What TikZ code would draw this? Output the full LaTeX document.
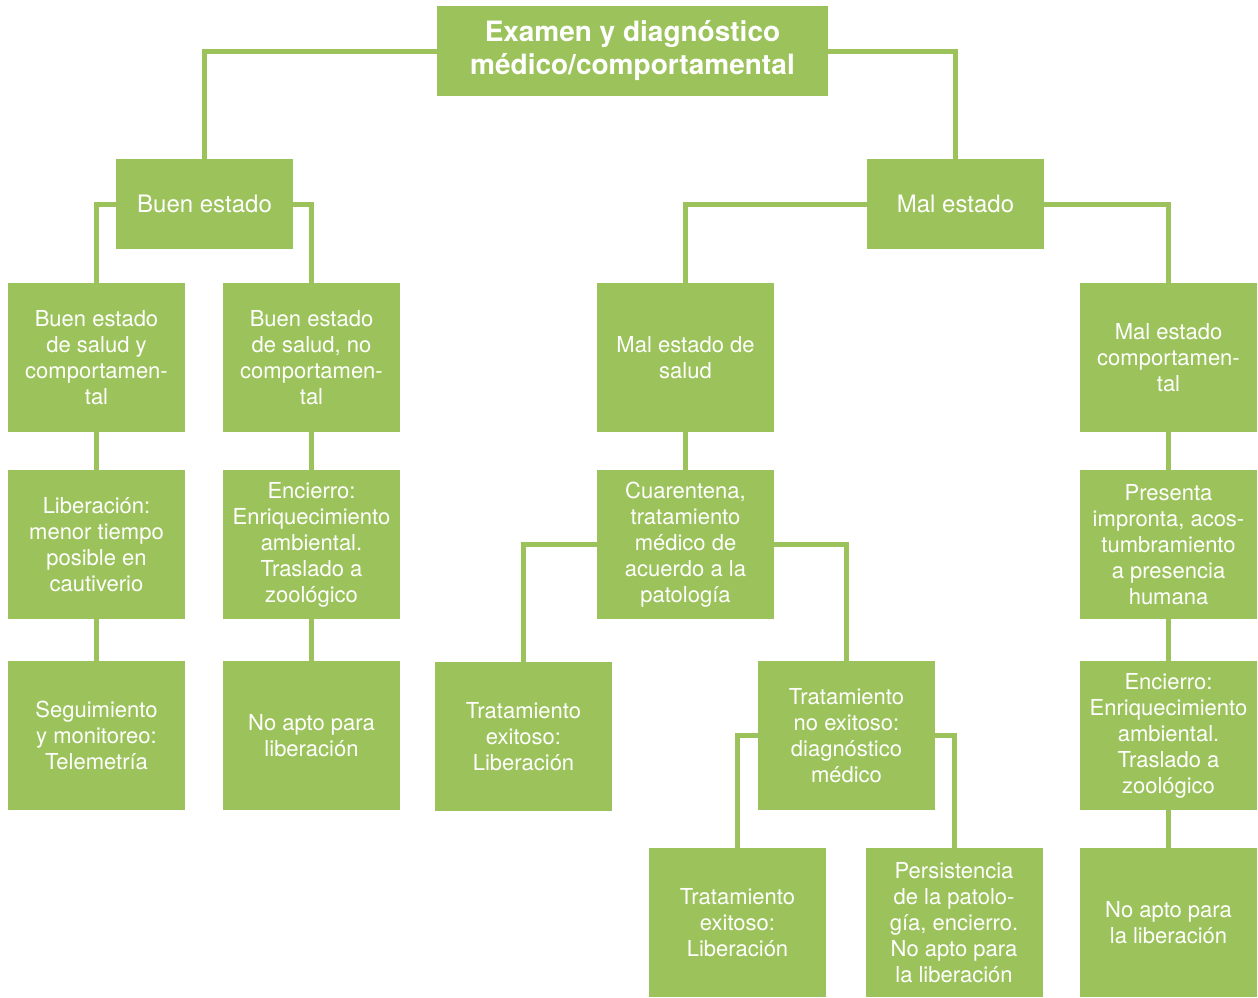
\documentclass[tikz,border=0pt]{standalone}
\usepackage{fontspec}
\setmainfont{TeX Gyre Heros}
\usetikzlibrary{positioning}
\definecolor{leafGreen}{HTML}{9CC35B}

\begin{document}
\begin{tikzpicture}[
  x=1pt, y=-1pt,
  box/.style={
    rectangle, fill=leafGreen, draw=none,
    minimum width=177pt, minimum height=149pt, align=center,
    text=white, font=\fontsize{22}{26}\selectfont, inner sep=2pt,
  },
  head/.style={box, minimum height=90pt, font=\fontsize{24}{28}\selectfont},
  title/.style={head, minimum width=391pt, font=\bfseries\fontsize{28}{33}\selectfont},
  link/.style={draw=leafGreen, line width=5pt},
]
\useasboundingbox (0,0) rectangle (1258,997);

\node[title] at (632.5,51) (exam) {Examen y diagnóstico\\médico/comportamental};

\node[head] at (204.5,204) (buen) {Buen estado};
\node[head] at (955.5,204) (mal)  {Mal estado};

% third row
\node[box] at (96.5,357.5)   (bsalud) {Buen estado\\de salud y\\comportamen-\\tal};
\node[box] at (311.5,357.5)  (bnocomp) {Buen estado\\de salud, no\\comportamen-\\tal};
\node[box] at (685.5,357.5)  (msalud) {Mal estado de\\salud};
\node[box] at (1168.5,357.5) (mcomp) {Mal estado\\comportamen-\\tal};

% fourth row
\node[box] at (96.5,544.5)   (liber) {Liberación:\\menor tiempo\\posible en\\cautiverio};
\node[box] at (311.5,544.5)  (encA)  {Encierro:\\Enriquecimiento\\ambiental.\\Traslado a\\zoológico};
\node[box] at (685.5,544.5)  (cuar)  {Cuarentena,\\tratamiento\\médico de\\acuerdo a la\\patología};
\node[box] at (1168.5,544.5) (impr)  {Presenta\\impronta, acos-\\tumbramiento\\a presencia\\humana};

% fifth row
\node[box] at (96.5,735.5)   (segui) {Seguimiento\\y monitoreo:\\Telemetría};
\node[box] at (311.5,735.5)  (noaptoA) {No apto para\\liberación};
\node[box] at (523.5,736.5)  (exitoA) {Tratamiento\\exitoso:\\Liberación};
\node[box] at (846.5,735.5)  (noexito) {Tratamiento\\no exitoso:\\diagnóstico\\médico};
\node[box] at (1168.5,735.5) (encB)  {Encierro:\\Enriquecimiento\\ambiental.\\Traslado a\\zoológico};

% last row
\node[box] at (737.5,922.5)  (exitoB) {Tratamiento\\exitoso:\\Liberación};
\node[box] at (954,922.5)    (persis) {Persistencia\\de la patolo-\\gía, encierro.\\No apto para\\la liberación};
\node[box] at (1168.5,922.5) (noaptoB) {No apto para\\la liberación};

\draw[link] (exam.west) -| (buen.north);
\draw[link] (exam.east) -| (mal.north);
\draw[link] (buen.west) -| (bsalud.north);
\draw[link] (buen.east) -| (bnocomp.north);
\draw[link] (mal.west)  -| (msalud.north);
\draw[link] (mal.east)  -| (mcomp.north);

\draw[link] (bsalud)  -- (liber);
\draw[link] (liber)   -- (segui);
\draw[link] (bnocomp) -- (encA);
\draw[link] (encA)    -- (noaptoA);
\draw[link] (msalud)  -- (cuar);
\draw[link] (mcomp)   -- (impr);
\draw[link] (impr)    -- (encB);
\draw[link] (encB)    -- (noaptoB);

\draw[link] (cuar.west)    -| (exitoA.north);
\draw[link] (cuar.east)    -| (noexito.north);
\draw[link] (noexito.west) -| (exitoB.north);
\draw[link] (noexito.east) -| (persis.north);

\end{tikzpicture}
\end{document}
